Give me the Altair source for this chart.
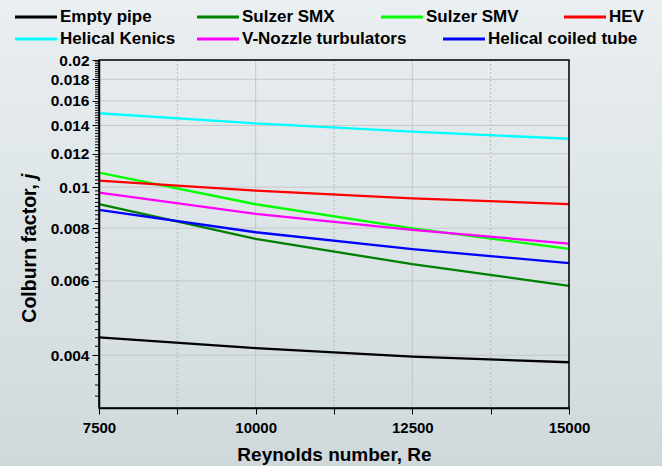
import altair as alt
import pandas as pd

# ---------------- data ----------------
names = ["Empty pipe", "Sulzer SMX", "Sulzer SMV", "HEV",
         "Helical Kenics", "V-Nozzle turbulators", "Helical coiled tube"]
colors = ["#000000", "#008000", "#00ff00", "#ff0000",
          "#00ffff", "#ff00ff", "#0000ff"]
reynolds = [7500, 10000, 12500, 15000]
empty_pipe = [0.00441, 0.00416, 0.00397, 0.00385]
sulzer_smx = [0.00911, 0.00754, 0.00657, 0.00584]
sulzer_smv = [0.01082, 0.00911, 0.00799, 0.00714]
hev = [0.01036, 0.00981, 0.00941, 0.00912]
helical_kenics = [0.01496, 0.01416, 0.01353, 0.01302]
v_nozzle = [0.00970, 0.00864, 0.00792, 0.00735]
helical_coiled = [0.00883, 0.00782, 0.00713, 0.00661]
series_values = [empty_pipe, sulzer_smx, sulzer_smv, hev,
                 helical_kenics, v_nozzle, helical_coiled]

x_major = [7500, 10000, 12500, 15000]
x_minor = [8750, 11250, 13750]
y_major = [0.004, 0.006, 0.008, 0.01, 0.012, 0.014, 0.016, 0.018, 0.02]
y_minor_all = [round(0.0032 + 0.0002 * i, 4) for i in range(84)]
y_minor = [v for v in y_minor_all if all(abs(v - m) > 1e-7 for m in y_major)]

# ---------------- layout ----------------
LEFT, TOP, W, H = 99, 60, 470, 348
TOTAL_W, TOTAL_H = 662, 466
FONT = "Liberation Sans, Arial, sans-serif"

rows = []
for n, vals in zip(names, series_values):
    for r, v in zip(reynolds, vals):
        rows.append({"series": n, "re": r, "j": v})
df = pd.DataFrame(rows)

color_scale = alt.Scale(domain=names, range=colors)
x_scale = alt.Scale(domain=[7500, 15000], nice=False, zero=False)
y_scale = alt.Scale(type="log", domain=[0.003, 0.02], nice=False)

one = pd.DataFrame({"k": [0]})

bg = alt.Chart(one).mark_rect(
    fill=alt.Gradient(
        gradient="linear",
        stops=[alt.GradientStop(color="#eaeff1", offset=0),
               alt.GradientStop(color="#cfd9dc", offset=1)],
        x1=0, x2=0, y1=0, y2=1)
).encode(x=alt.value(-LEFT), x2=alt.value(TOTAL_W - LEFT),
         y=alt.value(-TOP), y2=alt.value(TOTAL_H - TOP))

hgrid = alt.Chart(pd.DataFrame({"j": y_major})).mark_rule(
    color="#c3c8ca", strokeWidth=1
).encode(y=alt.Y("j:Q", scale=y_scale),
         x=alt.value(0), x2=alt.value(W))

vgrid = alt.Chart(pd.DataFrame({"re": x_major})).mark_rule(
    color="#c3c8ca", strokeWidth=1
).encode(x=alt.X("re:Q", scale=x_scale),
         y=alt.value(0), y2=alt.value(H))

vgrid_minor = alt.Chart(pd.DataFrame({"re": x_minor})).mark_rule(
    color="#b5babc", strokeWidth=1, strokeDash=[2, 2]
).encode(x=alt.X("re:Q", scale=x_scale),
         y=alt.value(0), y2=alt.value(H))

lines = alt.Chart(df).mark_line(strokeWidth=2.3).encode(
    x=alt.X("re:Q", scale=x_scale,
            axis=alt.Axis(values=sorted(x_major + x_minor), format="d",
                          labelExpr="datum.value % 2500 == 0 ? datum.label : ''",
                          title="Reynolds number, Re", titleFont=FONT,
                          titleFontSize=19, titleFontWeight="bold", titleColor="black",
                          titleY=46, titleBaseline="middle",
                          labelFont=FONT, labelFontSize=15, labelFontWeight="bold",
                          labelColor="black", labelPadding=6, labelFlush=False,
                          tickSize=6, tickColor="black", tickWidth=1,
                          domainColor="black", domainWidth=1.5,
                          grid=False, zindex=1)),
    y=alt.Y("j:Q", scale=y_scale,
            axis=alt.Axis(values=y_major, format=".3~f", title=None,
                          labelFont=FONT, labelFontSize=15.5, labelFontWeight="bold",
                          labelColor="black", labelPadding=3, labelOverlap=False,
                          tickSize=7, tickColor="black", tickWidth=1,
                          domainColor="black", domainWidth=1.5,
                          grid=False, zindex=1)),
    color=alt.Color("series:N", scale=color_scale, legend=None),
    order=alt.Order("re:Q"),
)

ytick_minor = alt.Chart(pd.DataFrame({"j": y_minor})).mark_rule(
    color="black", strokeWidth=1
).encode(y=alt.Y("j:Q", scale=y_scale),
         x=alt.value(-4), x2=alt.value(0))

frame = alt.Chart(one).mark_rect(
    fill="transparent", stroke="black", strokeWidth=1.5
).encode(x=alt.value(0), x2=alt.value(W), y=alt.value(0), y2=alt.value(H))

# y title: "Colburn factor, " + italic "j"
ytitle1 = alt.Chart(one).mark_text(
    text="Colburn factor,", angle=270, align="right", baseline="alphabetic",
    font=FONT, fontSize=19.5, fontWeight="bold", color="black"
).encode(x=alt.value(36 - LEFT), y=alt.value(184 - TOP))
ytitle2 = alt.Chart(one).mark_text(
    text="j", angle=270, align="left", baseline="alphabetic",
    font=FONT, fontSize=19.5, fontWeight="bold", fontStyle="italic", color="black"
).encode(x=alt.value(36 - LEFT), y=alt.value(179 - TOP))

# custom legend (flow layout like the reference)
sym_x = [15, 197, 381, 564, 15, 197, 443]
sym_y = [17, 17, 17, 17, 39, 39, 39]
leg = pd.DataFrame({
    "series": names,
    "sx": [s - LEFT for s in sym_x],
    "ex": [s + 42 - LEFT for s in sym_x],
    "tx": [s + 45 - LEFT for s in sym_x],
    "sy": [y - TOP for y in sym_y],
})
leg_sym = alt.Chart(leg).mark_rule(strokeWidth=3).encode(
    x=alt.X("sx:Q", scale=None), x2="ex:Q",
    y=alt.Y("sy:Q", scale=None),
    color=alt.Color("series:N", scale=color_scale, legend=None))
leg_txt = alt.Chart(leg).mark_text(
    align="left", baseline="middle", font=FONT, fontSize=17,
    fontWeight="bold", color="black"
).encode(x=alt.X("tx:Q", scale=None),
         y=alt.Y("sy:Q", scale=None),
         text="series:N")

chart = alt.layer(
    bg, hgrid, vgrid, vgrid_minor, lines, ytick_minor, frame,
    ytitle1, ytitle2, leg_sym, leg_txt
).properties(
    width=W, height=H,
    autosize=alt.AutoSizeParams(type="none"),
    padding={"left": LEFT, "top": TOP, "right": TOTAL_W - LEFT - W,
             "bottom": TOTAL_H - TOP - H},
).configure_view(stroke=None)

chart.save("out.html", embed_options={"renderer": "svg", "actions": False})
